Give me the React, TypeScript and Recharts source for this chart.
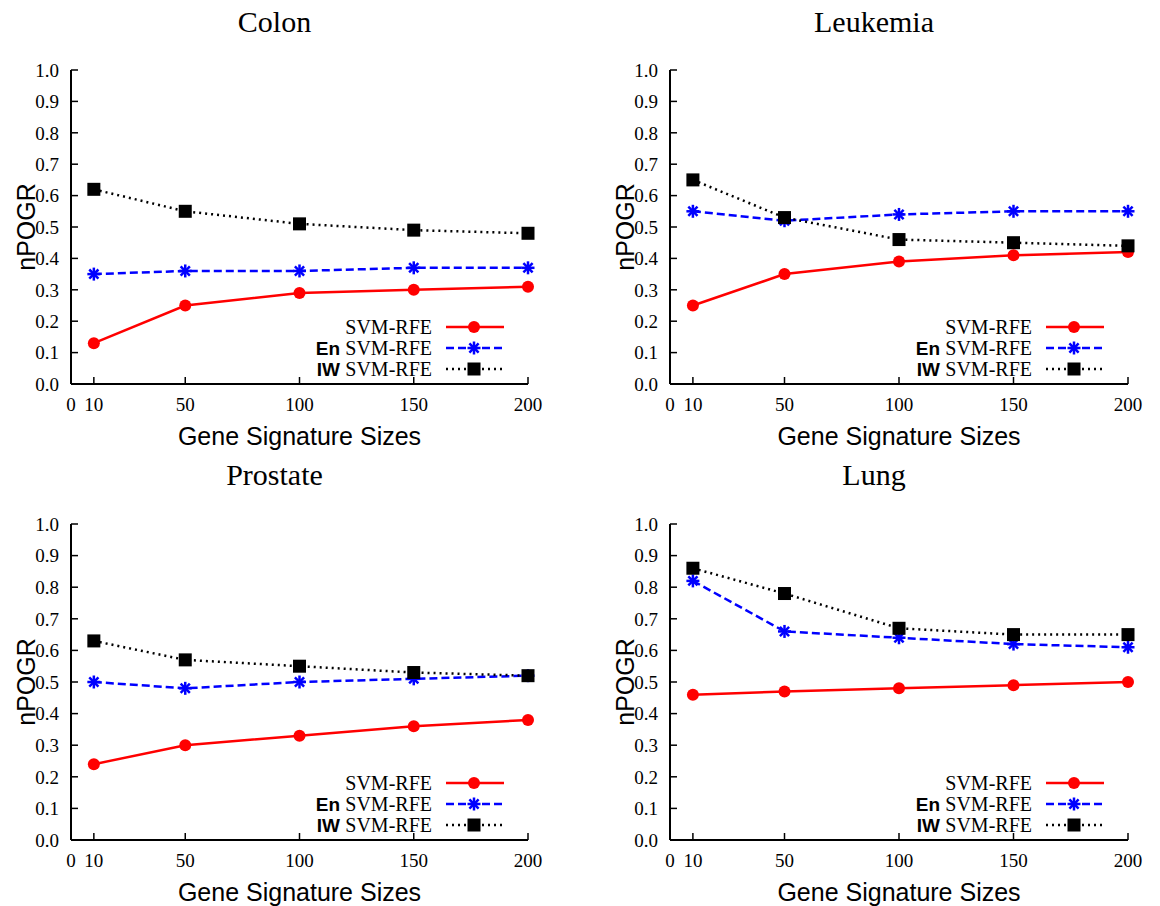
import React from 'react';
import { LineChart, Line, XAxis, YAxis } from 'recharts';

// gene signature sizes on the x axis
const sizes = [10, 50, 100, 150, 200];
const xTicks = [0, 10, 50, 100, 150, 200];
const yTicks = [0, 0.1, 0.2, 0.3, 0.4, 0.5, 0.6, 0.7, 0.8, 0.9, 1.0];

const colonSvm = [0.13, 0.25, 0.29, 0.3, 0.31];
const colonEn = [0.35, 0.36, 0.36, 0.37, 0.37];
const colonIw = [0.62, 0.55, 0.51, 0.49, 0.48];

const leukemiaSvm = [0.25, 0.35, 0.39, 0.41, 0.42];
const leukemiaEn = [0.55, 0.52, 0.54, 0.55, 0.55];
const leukemiaIw = [0.65, 0.53, 0.46, 0.45, 0.44];

const prostateSvm = [0.24, 0.3, 0.33, 0.36, 0.38];
const prostateEn = [0.5, 0.48, 0.5, 0.51, 0.52];
const prostateIw = [0.63, 0.57, 0.55, 0.53, 0.52];

const lungSvm = [0.46, 0.47, 0.48, 0.49, 0.5];
const lungEn = [0.82, 0.66, 0.64, 0.62, 0.61];
const lungIw = [0.86, 0.78, 0.67, 0.65, 0.65];

const SERIF = '"Liberation Serif", "Times New Roman", serif';
const SANS = '"Liberation Sans", Arial, sans-serif';
const RED = '#ff0000';
const BLUE = '#0000ff';

const buildRows = (svm: number[], en: number[], iw: number[]) =>
  sizes.map((s, i) => ({ size: s, svm: svm[i], en: en[i], iw: iw[i] }));

const CircleDot = (p: any) =>
  p.cx == null ? null : <circle cx={p.cx} cy={p.cy} r={6} fill={RED} />;

const StarDot = (p: any) => {
  if (p.cx == null) return null;
  const s = 6.5;
  const d = 4.6;
  return (
    <g stroke={BLUE} strokeWidth={2.5}>
      <line x1={p.cx - s} y1={p.cy} x2={p.cx + s} y2={p.cy} />
      <line x1={p.cx} y1={p.cy - s} x2={p.cx} y2={p.cy + s} />
      <line x1={p.cx - d} y1={p.cy - d} x2={p.cx + d} y2={p.cy + d} />
      <line x1={p.cx - d} y1={p.cy + d} x2={p.cx + d} y2={p.cy - d} />
    </g>
  );
};

const SquareDot = (p: any) =>
  p.cx == null ? null : <rect x={p.cx - 6.5} y={p.cy - 6.5} width={13} height={13} fill="#000" />;

type Panel = {
  title: string;
  left: number;
  top: number;
  margin: { top: number; right: number; bottom: number; left: number };
  svm: number[];
  en: number[];
  iw: number[];
};

const panels: Panel[] = [
  { title: 'Colon', left: 0, top: 0, margin: { top: 70, right: 52, bottom: 39, left: 31 }, svm: colonSvm, en: colonEn, iw: colonIw },
  { title: 'Leukemia', left: 580, top: 0, margin: { top: 70, right: 32, bottom: 39, left: 50 }, svm: leukemiaSvm, en: leukemiaEn, iw: leukemiaIw },
  { title: 'Prostate', left: 0, top: 453, margin: { top: 71, right: 52, bottom: 36, left: 31 }, svm: prostateSvm, en: prostateEn, iw: prostateIw },
  { title: 'Lung', left: 580, top: 453, margin: { top: 71, right: 32, bottom: 36, left: 50 }, svm: lungSvm, en: lungEn, iw: lungIw },
];

const W = 580;
const H = 453;
const Y_AXIS_W = 40;
const X_AXIS_H = 30;

const axisLine = { stroke: '#000', strokeWidth: 2 };
const tickLine = { stroke: '#000', strokeWidth: 1.5 };
const tickStyle = { fill: '#000', fontSize: 19, fontFamily: SERIF };

const legendItems = [
  { prefix: '', color: RED, dash: undefined as string | undefined, Dot: CircleDot },
  { prefix: 'En', color: BLUE, dash: '8 4', Dot: StarDot },
  { prefix: 'IW', color: '#000', dash: '2 4', Dot: SquareDot },
];

const ChartPanel: React.FC<{ panel: Panel }> = ({ panel }) => {
  const { margin } = panel;
  const plotLeft = margin.left + Y_AXIS_W;
  const plotRight = W - margin.right;
  const plotTop = margin.top;
  const plotBottom = H - margin.bottom - X_AXIS_H;
  const midX = (plotLeft + plotRight) / 2;
  const midY = (plotTop + plotBottom) / 2;
  const data = buildRows(panel.svm, panel.en, panel.iw);

  return (
    <div style={{ position: 'absolute', left: panel.left, top: panel.top, width: W, height: H }}>
      <LineChart width={W} height={H} data={data} margin={margin}>
        <XAxis
          dataKey="size"
          type="number"
          domain={[0, 200]}
          ticks={xTicks}
          interval={0}
          height={X_AXIS_H}
          tickSize={-7}
          tickMargin={21}
          axisLine={axisLine}
          tickLine={tickLine}
          tick={tickStyle}
        />
        <XAxis
          xAxisId="top"
          orientation="top"
          type="number"
          domain={[0, 200]}
          ticks={xTicks}
          interval={0}
          height={0}
          tickSize={-7}
          axisLine={axisLine}
          tickLine={tickLine}
          tickFormatter={() => ''}
        />
        <YAxis
          type="number"
          domain={[0, 1]}
          ticks={yTicks}
          interval={0}
          width={Y_AXIS_W}
          tickSize={-7}
          tickMargin={19}
          axisLine={axisLine}
          tickLine={tickLine}
          tick={tickStyle}
          tickFormatter={(v: number) => v.toFixed(1)}
        />
        <YAxis
          yAxisId="right"
          orientation="right"
          type="number"
          domain={[0, 1]}
          ticks={yTicks}
          interval={0}
          width={0}
          tickSize={-7}
          axisLine={axisLine}
          tickLine={tickLine}
          tickFormatter={() => ''}
        />
        <Line type="linear" dataKey="svm" stroke={RED} strokeWidth={2.5} dot={<CircleDot />} activeDot={false} isAnimationActive={false} />
        <Line type="linear" dataKey="en" stroke={BLUE} strokeWidth={2.5} strokeDasharray="8 4" dot={<StarDot />} activeDot={false} isAnimationActive={false} />
        <Line type="linear" dataKey="iw" stroke="#000" strokeWidth={2.5} strokeDasharray="2 4" dot={<SquareDot />} activeDot={false} isAnimationActive={false} />
      </LineChart>

      <div style={{ position: 'absolute', left: midX - 25 - 150, top: 2, width: 300, height: 40, lineHeight: '40px', textAlign: 'center', fontFamily: SERIF, fontSize: 30, color: '#000' }}>
        {panel.title}
      </div>
      <div style={{ position: 'absolute', left: plotLeft - 45 - 100, top: midY - 15, width: 200, height: 30, lineHeight: '30px', textAlign: 'center', fontFamily: SANS, fontSize: 25, color: '#000', transform: 'rotate(-90deg)' }}>
        nPOGR
      </div>
      <div style={{ position: 'absolute', left: midX - 200, top: plotBottom + 37, width: 400, height: 30, lineHeight: '30px', textAlign: 'center', fontFamily: SANS, fontSize: 25, color: '#000' }}>
        Gene Signature Sizes
      </div>

      {legendItems.map((item, i) => {
        const cy = plotBottom - 57 + i * 21;
        return (
          <React.Fragment key={i}>
            <div style={{ position: 'absolute', left: plotRight - 96 - 250, top: cy - 12, width: 250, height: 24, lineHeight: '24px', textAlign: 'right', whiteSpace: 'nowrap', color: '#000' }}>
              {item.prefix && <span style={{ fontFamily: SANS, fontWeight: 'bold', fontSize: 19 }}>{item.prefix} </span>}
              <span style={{ fontFamily: SERIF, fontSize: 20 }}>SVM-RFE</span>
            </div>
            <svg style={{ position: 'absolute', left: plotRight - 82, top: cy - 8 }} width={58} height={16}>
              <line x1={0} y1={8} x2={58} y2={8} stroke={item.color} strokeWidth={2.5} strokeDasharray={item.dash} />
              <item.Dot cx={28} cy={8} />
            </svg>
          </React.Fragment>
        );
      })}
    </div>
  );
}

export default function App() {
  return (
    <div style={{ position: 'absolute', left: 0, top: 0, width: 1160, height: 906, background: '#fff' }}>
      {panels.map((p) => (
        <ChartPanel key={p.title} panel={p} />
      ))}
    </div>
  );
}
